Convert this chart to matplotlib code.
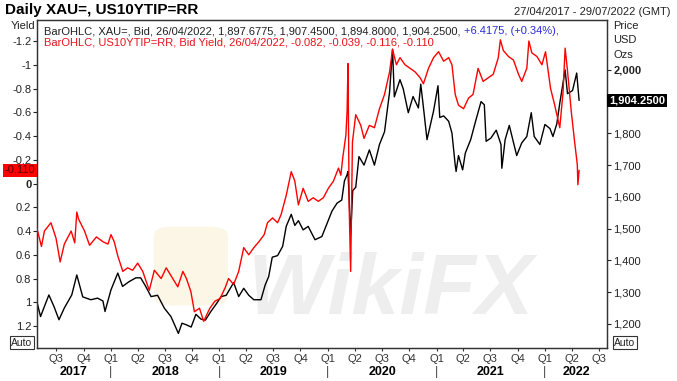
import matplotlib
matplotlib.use('Agg')
import matplotlib.pyplot as plt
import matplotlib.dates as mdates
import matplotlib.transforms as mtransforms
from matplotlib.patches import FancyBboxPatch
import pandas as pd

plt.rcParams['font.family'] = ['Liberation Sans', 'DejaVu Sans']

# gold spot (XAU=), USD / oz
gold_dates = [
    '2017-04-27', '2017-05-09', '2017-05-22', '2017-06-06', '2017-06-23', '2017-07-10',
    '2017-07-28', '2017-08-22', '2017-09-08', '2017-09-28', '2017-10-25', '2017-11-17',
    '2017-12-05', '2017-12-12', '2018-01-01', '2018-01-24', '2018-02-09', '2018-03-03',
    '2018-03-26', '2018-04-11', '2018-04-28', '2018-05-16', '2018-06-07', '2018-06-30',
    '2018-07-22', '2018-08-16', '2018-08-28', '2018-09-12', '2018-09-28', '2018-10-14',
    '2018-10-31', '2018-11-15', '2018-12-04', '2018-12-21', '2019-01-07', '2019-01-24',
    '2019-02-18', '2019-03-07', '2019-03-24', '2019-04-10', '2019-04-27', '2019-05-21',
    '2019-06-04', '2019-06-16', '2019-06-28', '2019-07-16', '2019-08-02', '2019-08-14',
    '2019-08-31', '2019-09-12', '2019-09-24', '2019-10-10', '2019-10-27', '2019-11-19',
    '2019-12-12', '2019-12-29', '2020-01-15', '2020-02-01', '2020-02-17', '2020-02-26',
    '2020-03-06', '2020-03-09', '2020-03-18', '2020-03-25', '2020-04-04', '2020-04-15',
    '2020-05-02', '2020-05-20', '2020-06-06', '2020-06-23', '2020-07-10', '2020-07-27',
    '2020-08-06', '2020-08-12', '2020-08-19', '2020-08-31', '2020-09-11', '2020-09-28',
    '2020-10-14', '2020-11-01', '2020-11-09', '2020-11-20', '2020-11-30', '2020-12-22',
    '2021-01-06', '2021-01-12', '2021-01-25', '2021-02-11', '2021-02-22', '2021-03-05',
    '2021-03-08', '2021-03-16', '2021-03-30', '2021-04-08', '2021-04-26', '2021-05-14',
    '2021-05-31', '2021-06-11', '2021-06-17', '2021-07-03', '2021-07-21', '2021-08-06',
    '2021-08-09', '2021-08-20', '2021-09-03', '2021-09-28', '2021-10-15', '2021-11-01',
    '2021-11-16', '2021-11-26', '2021-12-15', '2022-01-01', '2022-01-18', '2022-01-28',
    '2022-02-10', '2022-02-20', '2022-03-10', '2022-03-18', '2022-04-04', '2022-04-18',
    '2022-04-26']
gold_price = [
    1268, 1223, 1255, 1291, 1255, 1213,
    1250, 1291, 1354, 1285, 1276, 1281,
    1272, 1239, 1307, 1360, 1318, 1333,
    1345, 1345, 1318, 1286, 1290, 1249,
    1223, 1170, 1202, 1197, 1190, 1230,
    1215, 1212, 1240, 1262, 1286, 1290,
    1330, 1286, 1312, 1290, 1276, 1276,
    1322, 1349, 1410, 1415, 1444, 1507,
    1545, 1510, 1525, 1496, 1507, 1465,
    1475, 1515, 1555, 1580, 1590, 1650,
    1670, 1680, 1480, 1620, 1630, 1727,
    1700, 1748, 1700, 1765, 1805, 1930,
    2065, 1915, 1935, 1969, 1940, 1865,
    1916, 1880, 1955, 1865, 1780, 1870,
    1950, 1850, 1855, 1838, 1801, 1700,
    1680, 1730, 1685, 1738, 1780, 1843,
    1900, 1890, 1775, 1785, 1810, 1765,
    1690, 1780, 1825, 1730, 1770, 1790,
    1865, 1790, 1765, 1828, 1815, 1790,
    1830, 1895, 2000, 1925, 1935, 1990,
    1904.25]

# US 10y TIPS real yield (US10YTIP=RR), %
tip_dates = [
    '2017-04-27', '2017-05-12', '2017-05-22', '2017-06-13', '2017-06-30', '2017-07-14',
    '2017-07-28', '2017-08-20', '2017-09-01', '2017-09-08', '2017-09-14', '2017-10-04',
    '2017-10-21', '2017-11-13', '2017-12-05', '2017-12-22', '2018-01-01', '2018-01-12',
    '2018-01-24', '2018-02-10', '2018-02-26', '2018-03-15', '2018-04-01', '2018-04-18',
    '2018-05-10', '2018-05-27', '2018-06-19', '2018-07-06', '2018-07-28', '2018-08-14',
    '2018-08-31', '2018-09-12', '2018-09-27', '2018-10-09', '2018-10-26', '2018-11-09',
    '2018-11-30', '2018-12-17', '2019-01-03', '2019-01-20', '2019-02-01', '2019-02-18',
    '2019-03-07', '2019-03-24', '2019-04-10', '2019-04-27', '2019-05-14', '2019-06-01',
    '2019-06-12', '2019-06-29', '2019-07-16', '2019-07-28', '2019-08-14', '2019-08-31',
    '2019-09-12', '2019-09-24', '2019-10-10', '2019-10-27', '2019-11-13', '2019-11-30',
    '2019-12-17', '2020-01-03', '2020-01-20', '2020-02-06', '2020-02-14', '2020-02-20',
    '2020-03-02', '2020-03-06', '2020-03-09', '2020-03-13', '2020-03-18', '2020-03-24',
    '2020-04-04', '2020-04-21', '2020-05-02', '2020-05-20', '2020-06-06', '2020-06-23',
    '2020-07-10', '2020-07-27', '2020-08-06', '2020-08-19', '2020-08-31', '2020-09-17',
    '2020-10-04', '2020-10-21', '2020-11-07', '2020-11-18', '2020-12-05', '2020-12-22',
    '2021-01-08', '2021-01-25', '2021-02-11', '2021-02-22', '2021-03-05', '2021-03-16',
    '2021-04-02', '2021-04-19', '2021-05-04', '2021-05-21', '2021-06-07', '2021-06-24',
    '2021-07-11', '2021-07-28', '2021-08-04', '2021-08-14', '2021-08-31', '2021-09-17',
    '2021-10-04', '2021-10-15', '2021-11-01', '2021-11-08', '2021-11-18', '2021-12-05',
    '2021-12-22', '2022-01-03', '2022-01-20', '2022-02-03', '2022-02-20', '2022-03-03',
    '2022-03-10', '2022-03-18', '2022-03-31', '2022-04-11', '2022-04-20', '2022-04-22',
    '2022-04-26']
tip_yield = [
    0.38, 0.53, 0.40, 0.33, 0.46, 0.66,
    0.51, 0.40, 0.50, 0.24, 0.30, 0.40,
    0.52, 0.45, 0.49, 0.51, 0.43, 0.49,
    0.61, 0.74, 0.71, 0.73, 0.67, 0.74,
    0.90, 0.73, 0.80, 0.71, 0.80, 0.87,
    0.74, 0.80, 0.91, 1.08, 1.05, 1.16,
    1.05, 0.99, 0.97, 0.88, 0.80, 0.85,
    0.74, 0.54, 0.60, 0.54, 0.49, 0.43,
    0.33, 0.29, 0.33, 0.26, 0.10, -0.10,
    -0.02, 0.18, 0.04, 0.15, 0.12, 0.15,
    0.12, 0.04, -0.02, -0.13, -0.07, -0.21,
    -0.41, -0.61, -1.01, 0.20, 0.74, -0.35,
    -0.58, -0.49, -0.38, -0.49, -0.47, -0.63,
    -0.75, -0.94, -1.13, -1.00, -1.06, -1.00,
    -0.97, -0.94, -0.89, -0.84, -0.97, -1.06,
    -1.11, -1.03, -1.06, -1.00, -0.75, -0.66,
    -0.63, -0.72, -0.75, -0.97, -0.86, -0.89,
    -0.92, -1.06, -1.21, -1.12, -1.07, -1.04,
    -0.92, -0.86, -0.97, -1.20, -1.10, -1.07,
    -1.00, -1.11, -0.80, -0.66, -0.47, -0.77,
    -1.14, -0.95, -0.60, -0.35, -0.16, 0.01,
    -0.11]

yield_ticks = [-1.2, -1.0, -0.8, -0.6, -0.4, -0.2, 0.0, 0.2, 0.4, 0.6, 0.8, 1.0, 1.2]
price_ticks = [1200, 1300, 1400, 1500, 1600, 1700, 1800, 1900, 2000]
quarter_starts = pd.date_range('2017-07-01', '2022-07-01', freq='QS')
years = [2017, 2018, 2019, 2020, 2021, 2022]
x_start, x_end = '2017-04-27', '2022-07-29'

W, H = 677, 381


def main():
    fig = plt.figure(figsize=(W / 100, H / 100), dpi=100)
    ax = fig.add_axes([37 / W, 33 / H, 570 / W, 328 / H])
    ax2 = ax.twinx()

    gx = mdates.date2num(pd.to_datetime(gold_dates))
    tx = mdates.date2num(pd.to_datetime(tip_dates))

    ax2.plot(gx, gold_price, color='black', lw=1.0, zorder=3)
    ax.plot(tx, tip_yield, color='#ff0000', lw=1.0, zorder=3)
    ax.set_zorder(ax2.get_zorder() + 1)
    ax.patch.set_visible(False)

    x0 = mdates.date2num(pd.Timestamp(x_start))
    x1 = mdates.date2num(pd.Timestamp(x_end))
    ax.set_xlim(x0, x1)
    ax.set_ylim(1.385, -1.377)
    ax2.set_ylim(1124, 2157)

    # watermark
    ax2.text(0.62, 0.17, 'WikiFX', transform=ax2.transAxes, fontsize=62, fontweight='bold',
             fontstyle='italic', color='#eeeeee', ha='center', va='center', zorder=0)
    ax2.add_patch(FancyBboxPatch((0.215, 0.14), 0.11, 0.22, transform=ax2.transAxes,
                                 boxstyle='round,pad=0.01,rounding_size=0.03',
                                 fc='#fcf6e6', ec='none', zorder=0))

    for a in (ax, ax2):
        for s in a.spines.values():
            s.set_color('#333333')
            s.set_linewidth(0.9)

    ylabels = []
    for v in yield_ticks:
        s = f'{v:.1f}'.rstrip('0').rstrip('.')
        ylabels.append('0' if s in ('-0', '0') else s)
    ax.set_yticks(yield_ticks)
    ax.set_yticklabels(ylabels)
    ax.tick_params(axis='y', direction='out', length=3, width=0.8, labelsize=8, pad=1,
                   colors='#222222')
    for t in ax.get_yticklabels():
        if t.get_text() == '0':
            t.set_fontweight('bold')

    # the 1,900 label sits under the last-price flag, so it is left blank
    ax2.set_yticks(price_ticks)
    ax2.set_yticklabels(['' if p == 1900 else f'{p:,}' for p in price_ticks])
    ax2.tick_params(axis='y', direction='out', length=3, width=0.8, labelsize=8, pad=1.5,
                    colors='#222222')
    for t in ax2.get_yticklabels():
        if t.get_text() == '2,000':
            t.set_fontweight('bold')

    qx = mdates.date2num(quarter_starts)
    ax.set_xticks(qx)
    ax.set_xticklabels([f'Q{d.quarter}' for d in quarter_starts])
    ax.tick_params(axis='x', direction='out', length=2, width=0.8, labelsize=8, pad=2,
                   colors='#333333')

    trans_x = mtransforms.blended_transform_factory(ax.transData, ax.transAxes)
    for y in years:
        a = max(mdates.date2num(pd.Timestamp(f'{y}-01-01')), x0)
        b = min(mdates.date2num(pd.Timestamp(f'{y + 1}-01-01')), x1)
        ax.text((a + b) / 2, -0.072, str(y), transform=trans_x, ha='center', va='center',
                fontsize=9, fontweight='bold', clip_on=False)
        if y > years[0]:
            ax.text(a, -0.072, '|', transform=trans_x, ha='center', va='center',
                    fontsize=9, color='#444444', clip_on=False)

    # header texts
    fig.text(5 / W, 1 - 10 / H, 'Daily XAU=, US10YTIP=RR', fontsize=11, fontweight='bold',
             va='center', ha='left')
    fig.text(671 / W, 1 - 12 / H, '27/04/2017 - 29/07/2022 (GMT)', fontsize=8,
             va='center', ha='right', color='#222222')
    t1 = fig.text(44 / W, 1 - 31.5 / H,
                  'BarOHLC, XAU=, Bid, 26/04/2022, 1,897.6775, 1,907.4500, 1,894.8000, 1,904.2500, ',
                  fontsize=8, va='center', ha='left', color='#222222')
    fig.canvas.draw()
    bb = t1.get_window_extent()
    fig.text(bb.x1 / W, 1 - 31.5 / H, '+6.4175, (+0.34%),', fontsize=8, va='center',
             ha='left', color='#2b2bd6')
    fig.text(44 / W, 1 - 42.3 / H,
             'BarOHLC, US10YTIP=RR, Bid Yield, 26/04/2022, -0.082, -0.039, -0.116, -0.110',
             fontsize=8, va='center', ha='left', color='#e8141c')

    fig.text(35 / W, 1 - 26 / H, 'Yield', fontsize=8, ha='right', va='center', color='#222222')
    for i, s in enumerate(['Price', 'USD', 'Ozs']):
        fig.text(613 / W, 1 - (26 + 14.3 * i) / H, s, fontsize=8, ha='left', va='center',
                 color='#222222')

    # last value flags
    left_tr = mtransforms.blended_transform_factory(fig.transFigure, ax.transData)
    fig.text(35.5 / W, tip_yield[-1], f'{tip_yield[-1]:.3f}', transform=left_tr, fontsize=8,
             ha='right', va='center', color='#5a0000',
             bbox=dict(boxstyle='square,pad=0.15', fc='#ff0000', ec='none'), zorder=10)
    right_tr = mtransforms.blended_transform_factory(fig.transFigure, ax2.transData)
    fig.text(609 / W, gold_price[-1], f'{gold_price[-1]:,.4f}', transform=right_tr,
             fontsize=8, fontweight='bold', ha='left', va='center', color='white',
             bbox=dict(boxstyle='square,pad=0.15', fc='black', ec='none'), zorder=10)

    for xx in (22 / W, 625 / W):
        fig.text(xx, 1 - 342.5 / H, 'Auto', fontsize=7.5, ha='center', va='center',
                 color='#222222',
                 bbox=dict(boxstyle='square,pad=0.12', fc='white', ec='#333333', lw=0.8))

    fig.savefig('out.png', dpi=100)


if __name__ == "__main__":
    main()
